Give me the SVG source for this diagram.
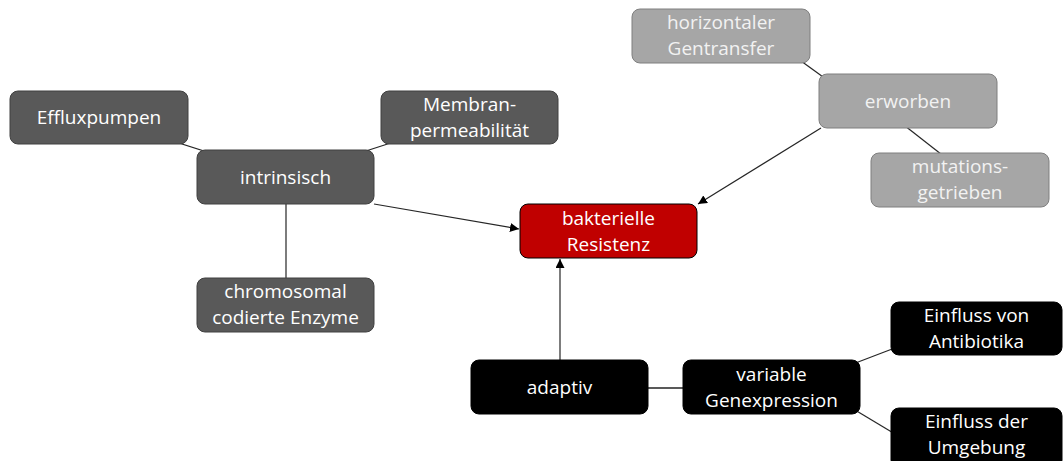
<svg xmlns="http://www.w3.org/2000/svg" width="1064" height="461" viewBox="0 0 1064 461">
<defs>
<marker id="ah" viewBox="0 0 10 10" refX="10" refY="5" markerWidth="9" markerHeight="9" markerUnits="userSpaceOnUse" orient="auto">
<path d="M0,0 L10,5 L0,10 z" fill="#000"/>
</marker>
</defs>
<style>
text{font-family:"Open Sans","Liberation Sans",sans-serif;font-size:19px;fill:#fff;text-anchor:middle}
.dark rect{fill:#595959;stroke:#404040;stroke-width:1}
.light rect{fill:#a6a6a6;stroke:#7f7f7f;stroke-width:1}
.light text{fill:#f2f2f2}
.black rect{fill:#000;stroke:#000;stroke-width:1}
.red rect{fill:#c00000;stroke:#000;stroke-width:1}
.c line{stroke:#262626;stroke-width:1.2;fill:none}
</style>
<rect width="1064" height="461" fill="#fff"/>
<g id="connectors" class="c">
<line x1="99" y1="117.5" x2="285.5" y2="177"/>
<line x1="469.5" y1="117.5" x2="285.5" y2="177"/>
<line x1="286" y1="204" x2="286" y2="278"/>
<line x1="374" y1="204" x2="519" y2="229" marker-end="url(#ah)"/>
<line x1="790" y1="53" x2="830" y2="82"/>
<line x1="900" y1="122" x2="946" y2="158"/>
<line x1="821" y1="128" x2="698" y2="204" marker-end="url(#ah)"/>
<line x1="560" y1="360" x2="560" y2="259" marker-end="url(#ah)"/>
<line x1="648" y1="388" x2="683" y2="388" style="stroke:#595959;stroke-width:2"/>
<line x1="845" y1="367" x2="900" y2="346"/>
<line x1="845" y1="404" x2="900" y2="437"/>
</g>
<g id="effluxpumpen" class="dark"><rect x="10" y="91" width="178" height="53" rx="8"/><text x="99" y="124">Effluxpumpen</text></g>
<g id="membran" class="dark"><rect x="381" y="91" width="177" height="53" rx="8"/><text x="469.5" y="111">Membran-</text><text x="469.5" y="137">permeabilität</text></g>
<g id="intrinsisch" class="dark"><rect x="197" y="150" width="177" height="54" rx="8"/><text x="285.5" y="184">intrinsisch</text></g>
<g id="chromosomal" class="dark"><rect x="197" y="278" width="177" height="54" rx="8"/><text x="285.5" y="298">chromosomal</text><text x="285.5" y="324">codierte Enzyme</text></g>
<g id="resistenz" class="red"><rect x="520" y="204" width="177" height="54" rx="8"/><text x="608.5" y="225">bakterielle</text><text x="608.5" y="251">Resistenz</text></g>
<g id="horizontal" class="light"><rect x="632" y="9" width="178" height="54" rx="8"/><text x="721" y="29">horizontaler</text><text x="721" y="55">Gentransfer</text></g>
<g id="erworben" class="light"><rect x="819" y="74" width="178" height="54" rx="8"/><text x="908" y="108">erworben</text></g>
<g id="mutation" class="light"><rect x="871" y="153" width="178" height="54" rx="8"/><text x="960" y="173">mutations-</text><text x="960" y="199">getrieben</text></g>
<g id="adaptiv" class="black"><rect x="471" y="360" width="177" height="54" rx="8"/><text x="559.5" y="394">adaptiv</text></g>
<g id="genexpression" class="black"><rect x="683" y="360" width="177" height="54" rx="8"/><text x="771.5" y="381">variable</text><text x="771.5" y="407">Genexpression</text></g>
<g id="antibiotika" class="black"><rect x="891" y="302" width="171" height="53" rx="8"/><text x="976.5" y="322">Einfluss von</text><text x="976.5" y="348">Antibiotika</text></g>
<g id="umgebung" class="black"><rect x="891" y="408" width="171" height="60" rx="8"/><text x="976.5" y="428">Einfluss der</text><text x="976.5" y="454">Umgebung</text></g>
</svg>
